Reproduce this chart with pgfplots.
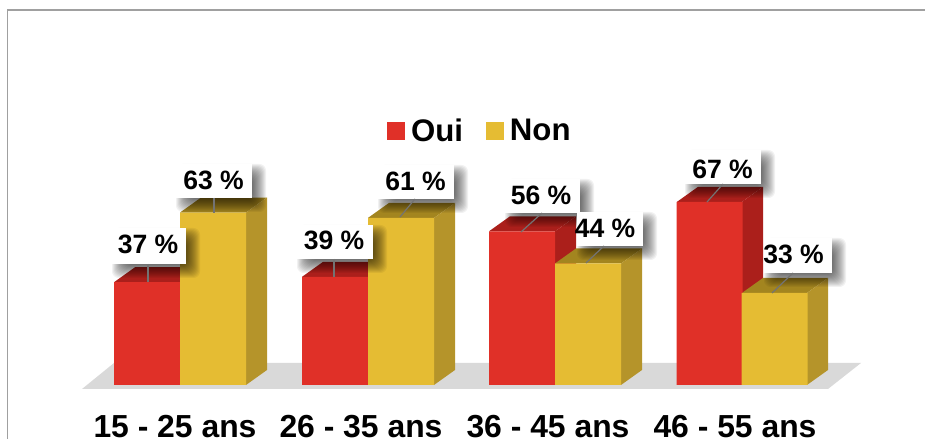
\documentclass[border=0pt]{standalone}
\usepackage{fontspec}
\setmainfont{Liberation Sans}
\usepackage{pgfplots}
\pgfplotsset{compat=1.18}
\definecolor{cRed}{HTML}{E03028}
\definecolor{cRedS}{HTML}{AB1F1B}
\definecolor{cGold}{HTML}{E5BC33}
\definecolor{cGoldS}{HTML}{B5942A}
\definecolor{cGoldT}{HTML}{A3851F}
\definecolor{cFloor}{HTML}{D9D9D9}
\definecolor{cFrame}{HTML}{A0A0A0}
\newcommand{\lab}[6]{% x0,y0,x1,y1, line from, line to
  \foreach \e in {7,6,5,4,3,2,1,0,-1,-2,-3,-4,-5,-6}{
    \fill[black,opacity=0.055,rounded corners=5pt] ({#1+7-\e},{#2+7-\e}) rectangle ({#3+7+\e},{#4+7+\e});
  }
  \fill[white] (#1,#2) rectangle (#3,#4);
  \draw[color=gray!90!black,line width=0.9pt] #5 -- #6;
}
\begin{document}
\begin{tikzpicture}
\path[use as bounding box] (0,0) rectangle (693.75pt,329.25pt);
\begin{axis}[
  at={(0,0)},anchor=south west,
  scale only axis,width=693.75pt,height=329.25pt,
  xmin=0,xmax=925,ymin=-21.49,ymax=142.31,
  y coord trafo/.code={\pgfmathparse{#1+1.34}},
  axis line style={draw=none},
  ytick=\empty,
  xtick={175,361,548,735},
  xticklabels={15 - 25 ans,26 - 35 ans,36 - 45 ans,46 - 55 ans},
  major tick length=0pt,
  xtick style={draw=none},
  xticklabel style={font=\bfseries\fontsize{23.9pt}{26pt}\selectfont,anchor=base,inner sep=0pt,yshift=1.2pt},
  clip=false,
  legend style={at={(387/925,308/439)},anchor=west,draw=none,fill=none,inner sep=0pt,outer sep=0pt,
    legend columns=2,font=\bfseries\fontsize{23.4pt}{26pt}\selectfont,
    /tikz/every even column/.style={column sep=15pt},
    legend cell align=left},
]
% floor
\addplot[fill=cFloor,draw=none,forget plot] coordinates {(82,-2.83)(828,-2.83)(861,6.87)(114,6.87)} -- cycle;
% top and side faces
\addplot[fill=cRedS,draw=none,forget plot] coordinates {(114,37)(135,42.6)(201,42.6)(180,37)} -- cycle;
\addplot[fill=cRedS,draw=none,forget plot] coordinates {(302,39)(323,44.6)(389,44.6)(368,39)} -- cycle;
\addplot[fill=cRedS,draw=none,forget plot] coordinates {(489,56)(510,61.6)(576,61.6)(555,56)} -- cycle;
\addplot[fill=cRedS,draw=none,forget plot] coordinates {(555,-1.34)(576,4.26)(576,61.6)(555,56)} -- cycle;
\addplot[fill=cRedS,draw=none,forget plot] coordinates {(677,67)(698,72.6)(763,72.6)(742,67)} -- cycle;
\addplot[fill=cRedS,draw=none,forget plot] coordinates {(742,-1.34)(763,4.26)(763,72.6)(742,67)} -- cycle;
\addplot[fill=cGoldT,draw=none,forget plot] coordinates {(180,63)(201,68.6)(267,68.6)(246,63)} -- cycle;
\addplot[fill=cGoldS,draw=none,forget plot] coordinates {(246,-1.34)(267,4.26)(267,68.6)(246,63)} -- cycle;
\addplot[fill=cGoldT,draw=none,forget plot] coordinates {(368,61)(389,66.6)(455,66.6)(434,61)} -- cycle;
\addplot[fill=cGoldS,draw=none,forget plot] coordinates {(434,-1.34)(455,4.26)(455,66.6)(434,61)} -- cycle;
\addplot[fill=cGoldT,draw=none,forget plot] coordinates {(555,44)(576,49.6)(642,49.6)(621,44)} -- cycle;
\addplot[fill=cGoldS,draw=none,forget plot] coordinates {(621,-1.34)(642,4.26)(642,49.6)(621,44)} -- cycle;
\addplot[fill=cGoldT,draw=none,forget plot] coordinates {(742,33)(763,38.6)(828,38.6)(807,33)} -- cycle;
\addplot[fill=cGoldS,draw=none,forget plot] coordinates {(807,-1.34)(828,4.26)(828,38.6)(807,33)} -- cycle;
% front faces
\addplot[ybar,bar width=49.5pt,bar shift=0pt,fill=cRed,draw=none,
  legend image code/.code={\fill[cRed] (0pt,-6.5pt) rectangle (13.5pt,6.5pt);}]
  coordinates {(147,37)(335,39)(522,56)(709.5,67)};
\addlegendentry{\hspace*{2.6pt}Oui}
\addplot[ybar,bar width=49.5pt,bar shift=0pt,fill=cGold,draw=none,
  legend image code/.code={\fill[cGold] (0pt,-6.5pt) rectangle (13.5pt,6.5pt);}]
  coordinates {(213,63)(401,61)(588,44)(774.5,33)};
\addlegendentry{\hspace*{2.6pt}Non}
\end{axis}
\begin{scope}[x=0.75pt,y=-0.75pt,yshift=329.25pt]
\draw[cFrame,line width=1.1pt] (7.5,439) -- (7.5,10) -- (925,10);
\tikzset{vl/.style={font=\bfseries\fontsize{19.9pt}{22pt}\selectfont,text=black,inner sep=0pt,anchor=base}}
\lab{112}{228}{186}{264}{(148,264)}{(148,282)}
\node[vl] at (148,254) {37 \%};
\lab{176}{164}{252}{198}{(214,198)}{(214,213)}
\node[vl] at (213.5,189.5) {63 \%};
\lab{297}{225}{373}{259}{(334,259)}{(334,277)}
\node[vl] at (334,250) {39 \%};
\lab{378}{165}{454}{199}{(400,217)}{(415,199)}
\node[vl] at (415.5,190.5) {61 \%};
\lab{505}{179}{580}{213}{(521,232)}{(542,213)}
\node[vl] at (541,205) {56 \%};
\lab{577}{212}{643}{246}{(586,263)}{(604,246)}
\node[vl] at (605,237.5) {44 \%};
\lab{685}{150}{761}{184}{(707,202)}{(723,184)}
\node[vl] at (722.5,178.5) {67 \%};
\lab{764}{238}{832}{273}{(772,293)}{(793,273)}
\node[vl] at (793.5,263.5) {33 \%};
\end{scope}
\end{tikzpicture}
\end{document}
